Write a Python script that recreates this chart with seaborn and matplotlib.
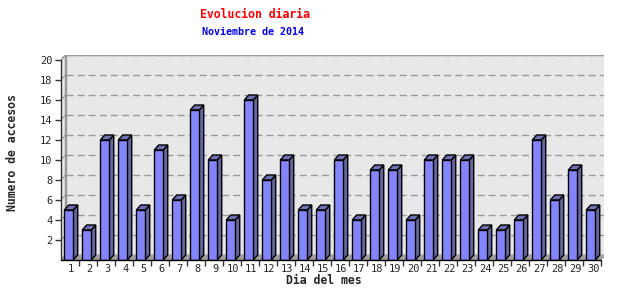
import matplotlib
matplotlib.use("Agg")
import matplotlib.pyplot as plt
import seaborn as sns
import pandas as pd
from matplotlib.patches import Polygon, Rectangle

days = [str(d) for d in range(1, 31)]
accesos = [5, 3, 12, 12, 5, 11, 6, 15, 10, 4, 16, 8, 10, 5, 5, 10, 4, 9, 9, 4,
           10, 10, 10, 3, 3, 4, 12, 6, 9, 5]
yticks = list(range(2, 21, 2))

title = "Evolucion diaria"
subtitle = "Noviembre de 2014"
xlabel = "Dia del mes"
ylabel = "Numero de accesos"

sns.set_style("white")
plt.rcParams['font.family'] = ['DejaVu Sans Mono']

W, H = 640, 300
fig = plt.figure(figsize=(6.4, 3.0), dpi=100)
L, R, B, T = 61, 604, 260, 55
ax = fig.add_axes([L / W, 1 - B / H, (R - L) / W, (B - T) / H])
xmin = -0.5
xmax = xmin + (R - L) / 18.0
ymax = (B - T) / 10.0
ax.set_xlim(xmin, xmax)
ax.set_ylim(0, ymax)
for s in ax.spines.values():
    s.set_visible(False)
ax.set_facecolor("white")

dx = 4.5 / 18.0
dy = 5.0 / 10.0
wall = "#e8e8e8"

# back wall, side wall, floor
ax.add_patch(Rectangle((xmin + dx, dy), 30 + 0.0, ymax - dy, facecolor=wall,
                       edgecolor="#999999", lw=1, zorder=0))
ax.add_patch(Polygon([(xmin, 0), (xmin, 20), (xmin + dx, 20 + dy), (xmin + dx, dy)],
                     closed=True, facecolor=wall, edgecolor="#999999", lw=1, zorder=0))
ax.add_patch(Polygon([(xmin, 0), (29.5, 0), (29.5 + dx, dy), (xmin + dx, dy)],
                     closed=True, facecolor="#a0a0a0", edgecolor="#a0a0a0", lw=0.5, zorder=0.5))
for yv in yticks:
    ax.plot([xmin + dx, 29.5 + dx], [yv + dy, yv + dy], color="#999999", lw=1,
            ls=(0, (5, 3)), zorder=0.6)
    ax.plot([xmin, xmin + dx], [yv, yv + dy], color="#999999", lw=0.8, zorder=0.6)

df = pd.DataFrame({"dia": days, "accesos": accesos})
sns.barplot(data=df, x="dia", y="accesos", color="#8484ff", saturation=1,
            width=0.5, edgecolor="black", linewidth=1, ax=ax, zorder=3)
ax.set_xlim(xmin, xmax)
ax.set_ylim(0, ymax)

shift = -0.07
for p in ax.patches:
    if isinstance(p, Rectangle) and p.get_zorder() == 3:
        x0 = p.get_x() + shift
        p.set_x(x0)
        w = p.get_width()
        h = p.get_height()
        x1 = x0 + w
        side = Polygon([(x1, 0), (x1 + dx, dy), (x1 + dx, h + dy), (x1, h)], closed=True,
                       facecolor="#65659e", edgecolor="black", lw=1, zorder=2.9)
        top = Polygon([(x0, h), (x0 + dx, h + dy), (x1 + dx, h + dy), (x1, h)], closed=True,
                      facecolor="#7070b4", edgecolor="black", lw=1, zorder=2.9)
        ax.add_patch(side)
        ax.add_patch(top)

# axes lines
ax.plot([xmin, xmin], [0, 20], color="#333333", lw=1, zorder=4, clip_on=False)
ax.plot([xmin, 29.5], [0, 0], color="black", lw=1, zorder=4, clip_on=False)

ax.set_yticks(yticks)
ax.set_yticklabels([str(v) for v in yticks])
ax.tick_params(axis="y", length=4, width=1, color="#333333", pad=2, labelsize=7.5, left=True)
ax.set_xticks([i + 0.06 for i in range(30)])
ax.set_xticklabels(days)
ax.set_xticks([i + 0.5 for i in range(30)], minor=True)
ax.tick_params(axis="x", which="major", length=0, pad=3, labelsize=7.5)
ax.tick_params(axis="x", which="minor", length=4, width=1, color="#333333", bottom=True)

ax.set_xlabel(xlabel, fontsize=8.3, fontweight="bold")
ax.set_ylabel(ylabel, fontsize=8.3, fontweight="bold")
ax.xaxis.set_label_coords((324 - L) / (R - L), -(281 - B) / (B - T), transform=ax.transAxes)
ax.xaxis.label.set_va("center")
ax.yaxis.set_label_coords(-(L - 13) / (R - L), (B - 153) / (B - T), transform=ax.transAxes)
ax.yaxis.label.set_va("center")

fig.text(255 / W, 1 - 14 / H, title, color="red", fontsize=8.3, fontweight="bold",
         ha="center", va="center")
fig.text(253.5 / W, 1 - 32 / H, subtitle, color="#0000ee", fontsize=7.2, fontweight="bold",
         ha="center", va="center")

fig.savefig("out.png", dpi=100)
